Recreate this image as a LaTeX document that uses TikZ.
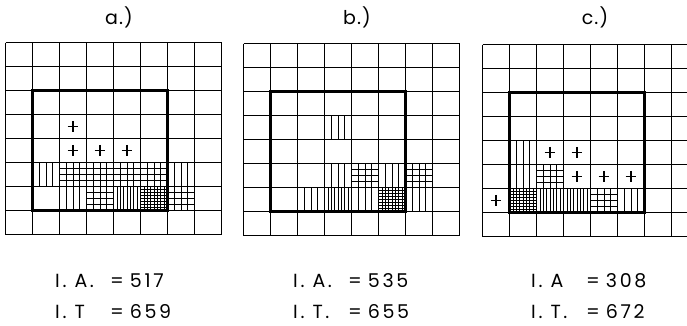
\documentclass[tikz,border=0pt]{standalone}
\usepackage{fontspec}
\newfontfamily\labfont[LetterSpace=14]{Poppins}
\newfontfamily\headfont[LetterSpace=6]{Poppins}
\usetikzlibrary{positioning}
\tikzset{
  cellgrid/.style = {draw=black, line width=1.3pt},
  boldbox/.style  = {draw=black, line width=2.8pt},
  hatch/.style    = {draw=black, line width=0.8pt},
  fine/.style     = {draw=black, line width=0.55pt},
  head/.style     = {font=\headfont\fontsize{19}{22}\selectfont, inner sep=0pt, anchor=base},
  val/.style      = {font=\labfont\fontsize{19}{22}\selectfont, inner sep=0pt, anchor=base west},
}
% cell fillings, (#1,#2) = column/row of the cell
\newcommand\vthree[2]{\foreach \k in {1,2,3} \draw[hatch] (#1+\k/4,#2) -- ++(0,1);}
\newcommand\gfour[2]{\foreach \k in {1,2,3} {\draw[hatch] (#1+\k/4,#2) -- ++(0,1); \draw[hatch] (#1,#2+\k/4) -- ++(1,0);}}
\newcommand\veight[2]{\foreach \k in {1,...,7} \draw[fine] (#1+\k/8,#2) -- ++(0,1);}
\newcommand\geight[2]{\foreach \k in {1,...,7} {\draw[fine] (#1+\k/8,#2) -- ++(0,1); \draw[fine] (#1,#2+\k/8) -- ++(1,0);}}
\newcommand\pluscell[2]{\draw[hatch, line width=1.1pt] (#1+0.5,#2+0.27) -- (#1+0.5,#2+0.73) (#1+0.3,#2+0.5) -- (#1+0.7,#2+0.5);}
\newcommand\cellnet{\foreach \i in {0,...,8} {\draw[cellgrid] (\i,0) -- (\i,8); \draw[cellgrid] (0,\i) -- (8,\i);}}
\newcommand\idx[2]{\makebox[55pt][l]{#1}=\hspace{6pt}#2}

\begin{document}
\begin{tikzpicture}[x=1pt, y=-1pt]
  \useasboundingbox (0,0) rectangle (687,325);

  % panel a
  \begin{scope}[shift={(5.5,42.5)}, x=27pt, y=-24pt]
    \foreach \c/\r in {2/3,2/4,3/4,4/4} {\pluscell{\c}{\r}}
    \foreach \c/\r in {1/5,6/5,2/6} {\vthree{\c}{\r}}
    \foreach \c/\r in {2/5,3/5,4/5,5/5,3/6,6/6} {\gfour{\c}{\r}}
    \veight{4}{6}
    \geight{5}{6}
    \cellnet
    \draw[boldbox] (1,2) rectangle (6,7);
  \end{scope}

  % panel b
  \begin{scope}[shift={(243.5,43.5)}, x=27pt, y=-24pt]
    \foreach \c/\r in {3/3,3/5,5/5,2/6,4/6,6/6} {\vthree{\c}{\r}}
    \foreach \c/\r in {4/5,6/5} {\gfour{\c}{\r}}
    \veight{3}{6}
    \geight{5}{6}
    \cellnet
    \draw[boldbox] (1,2) rectangle (6,7);
  \end{scope}

  % panel c
  \begin{scope}[shift={(482.5,44.5)}, x=27pt, y=-24pt]
    \foreach \c/\r in {2/4,3/4,3/5,4/5,5/5,0/6} {\pluscell{\c}{\r}}
    \foreach \c/\r in {1/4,1/5,5/6} {\vthree{\c}{\r}}
    \foreach \c/\r in {2/5,4/6} {\gfour{\c}{\r}}
    \foreach \c in {2,3} {\veight{\c}{6}}
    \geight{1}{6}
    \cellnet
    \draw[boldbox] (1,2) rectangle (6,7);
  \end{scope}

  \node[head] (headA) at (119,24) {a.)};
  \node[head] (headB) at (357,24) {b.)};
  \node[head] (headC) at (595,24) {c.)};

  \node[val] (iaA) at (55,287) {\idx{I.\hspace{8pt}A.}{517}};
  \node[val] (itA) at (55,318) {\idx{I.\hspace{8pt}T}{659}};
  \node[val] (iaB) at (293,287) {\idx{I.\hspace{8pt}A.}{535}};
  \node[val] (itB) at (293,318) {\idx{I.\hspace{8pt}T.}{655}};
  \node[val] (iaC) at (531,287) {\idx{I.\hspace{8pt}A}{308}};
  \node[val] (itC) at (531,318) {\idx{I.\hspace{8pt}T.}{672}};
\end{tikzpicture}
\end{document}
